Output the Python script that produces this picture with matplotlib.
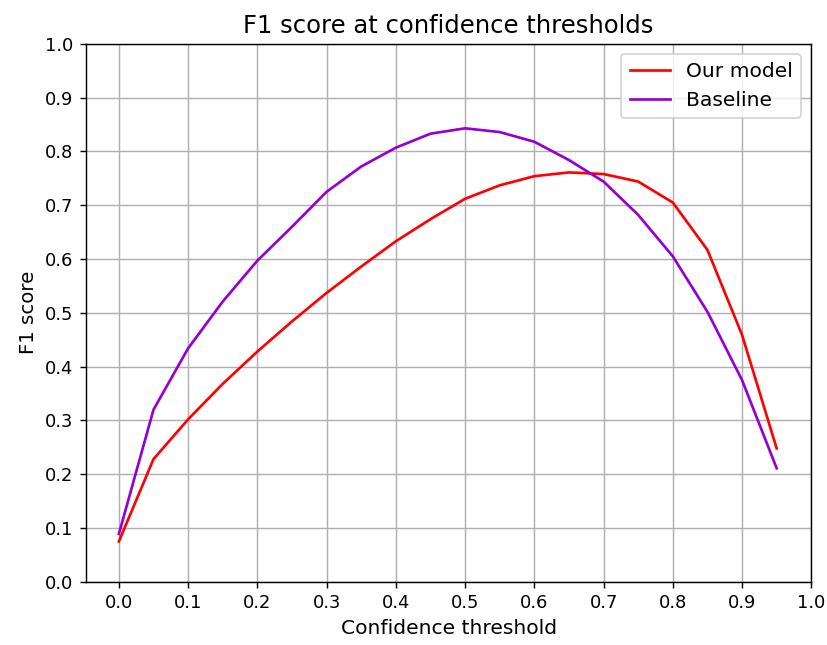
import numpy as np
import matplotlib
matplotlib.use("Agg")
import matplotlib.pyplot as plt

thresholds = [0.0, 0.05, 0.1, 0.15, 0.2, 0.25, 0.3, 0.35, 0.4, 0.45,
              0.5, 0.55, 0.6, 0.65, 0.7, 0.75, 0.8, 0.85, 0.9, 0.95]
f1_ours = [0.075, 0.228, 0.302, 0.368, 0.428, 0.484, 0.537, 0.586, 0.633, 0.674,
           0.712, 0.737, 0.754, 0.761, 0.758, 0.744, 0.705, 0.617, 0.459, 0.248]
f1_baseline = [0.089, 0.320, 0.434, 0.521, 0.597, 0.660, 0.725, 0.772, 0.807, 0.833,
               0.843, 0.836, 0.818, 0.784, 0.744, 0.682, 0.605, 0.502, 0.375, 0.211]


def main():
    dpi = 129
    fig = plt.figure(figsize=(827 / dpi, 645 / dpi), dpi=dpi)
    ax = fig.add_axes([0.104, 0.098, 0.877, 0.834])

    ax.plot(thresholds, f1_ours, color='red', label='Our model')
    ax.plot(thresholds, f1_baseline, color='darkviolet', label='Baseline')

    ax.set_xticks(np.arange(0, 1.05, 0.1))
    ax.set_yticks(np.arange(0, 1.05, 0.1))
    ax.set_ylim(0, 1)
    ax.grid(True)
    ax.set_xlabel("Confidence threshold", fontsize=11.3)
    ax.set_ylabel("F1 score", fontsize=11)
    ax.set_title("F1 score at confidence thresholds", fontsize=13.5)
    ax.legend(loc='upper right', fontsize=11.3)

    fig.savefig("out.png", dpi=dpi)
    plt.close(fig)


if __name__ == '__main__':
    main()
